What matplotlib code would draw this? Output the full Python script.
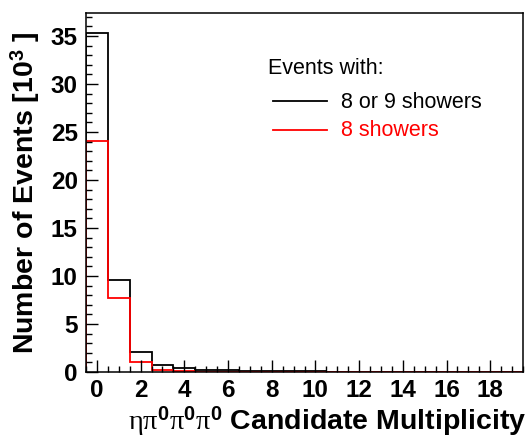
import numpy as np
import matplotlib
matplotlib.use("Agg")
import matplotlib.pyplot as plt
from matplotlib.ticker import MultipleLocator

plt.rcParams["font.family"] = ["Liberation Sans", "DejaVu Sans"]
plt.rcParams["mathtext.fontset"] = "custom"
plt.rcParams["mathtext.rm"] = "Liberation Serif"
plt.rcParams["mathtext.it"] = "Liberation Serif:italic"
plt.rcParams["mathtext.bf"] = "Liberation Sans:bold"

# Candidate multiplicity bins (0..19), counts in thousands of events
edges = np.arange(-0.5, 20.0, 1.0)
all_showers = [35.3, 9.6, 2.1, 0.72, 0.44, 0.24, 0.22, 0.12, 0.1, 0.08,
               0.06, 0.05, 0.04, 0.03, 0.02, 0.02, 0.01, 0.01, 0.01, 0.01]
eight_showers = [24.1, 7.7, 1.09, 0.24, 0.06, 0.03, 0.02, 0.01, 0.01, 0.0,
                 0.0, 0.0, 0.0, 0.0, 0.0, 0.0, 0.0, 0.0, 0.0, 0.0]

fig = plt.figure(figsize=(5.30, 4.38), dpi=100)
ax = fig.add_axes([86 / 530, 66 / 438, 437 / 530, 359 / 438])

ax.stairs(all_showers, edges, baseline=0, color="black", lw=1.3)
ax.stairs(eight_showers, edges, baseline=0, color="red", lw=1.3)

ax.set_xlim(-0.5, 19.5)
ax.set_ylim(0, 37.4)
ax.xaxis.set_major_locator(MultipleLocator(2))
ax.xaxis.set_minor_locator(MultipleLocator(0.5))
ax.yaxis.set_major_locator(MultipleLocator(5))
ax.yaxis.set_minor_locator(MultipleLocator(1))
ax.tick_params(which="both", direction="in", top=False, right=False, width=1.0)
ax.tick_params(which="major", length=8.5)
ax.tick_params(which="minor", length=4.2)
ax.tick_params(axis="x", pad=5)
ax.tick_params(axis="y", pad=6)
for lab in ax.get_xticklabels() + ax.get_yticklabels():
    lab.set_fontsize(17.5)
    lab.set_fontweight("bold")
for s in ax.spines.values():
    s.set_linewidth(1.1)

ax.set_ylabel(r"Number of Events [10$^{\mathbf{3}}$ ]", fontsize=20.5,
              fontweight="bold", labelpad=6)
fig.text(526 / 530, 16.5 / 438,
         r"$\mathrm{\eta\pi}^{\mathbf{0}}\mathrm{\pi}^{\mathbf{0}}\mathrm{\pi}^{\mathbf{0}}$ Candidate Multiplicity",
         fontsize=20.5, fontweight="bold", ha="right", va="center")

# legend block
fig.text(268 / 530, 1 - 69 / 438, "Events with:", fontsize=15.5, va="center")
fig.add_artist(plt.Line2D([273 / 530, 327 / 530], [1 - 101 / 438] * 2,
                          color="black", lw=1.3))
fig.text(341 / 530, 1 - 102 / 438, "8 or 9 showers", fontsize=15.5,
         va="center", color="black")
fig.add_artist(plt.Line2D([273 / 530, 327 / 530], [1 - 130 / 438] * 2,
                          color="red", lw=1.3))
fig.text(341 / 530, 1 - 131 / 438, "8 showers", fontsize=15.5,
         va="center", color="red")

fig.savefig("out.png", dpi=100)
